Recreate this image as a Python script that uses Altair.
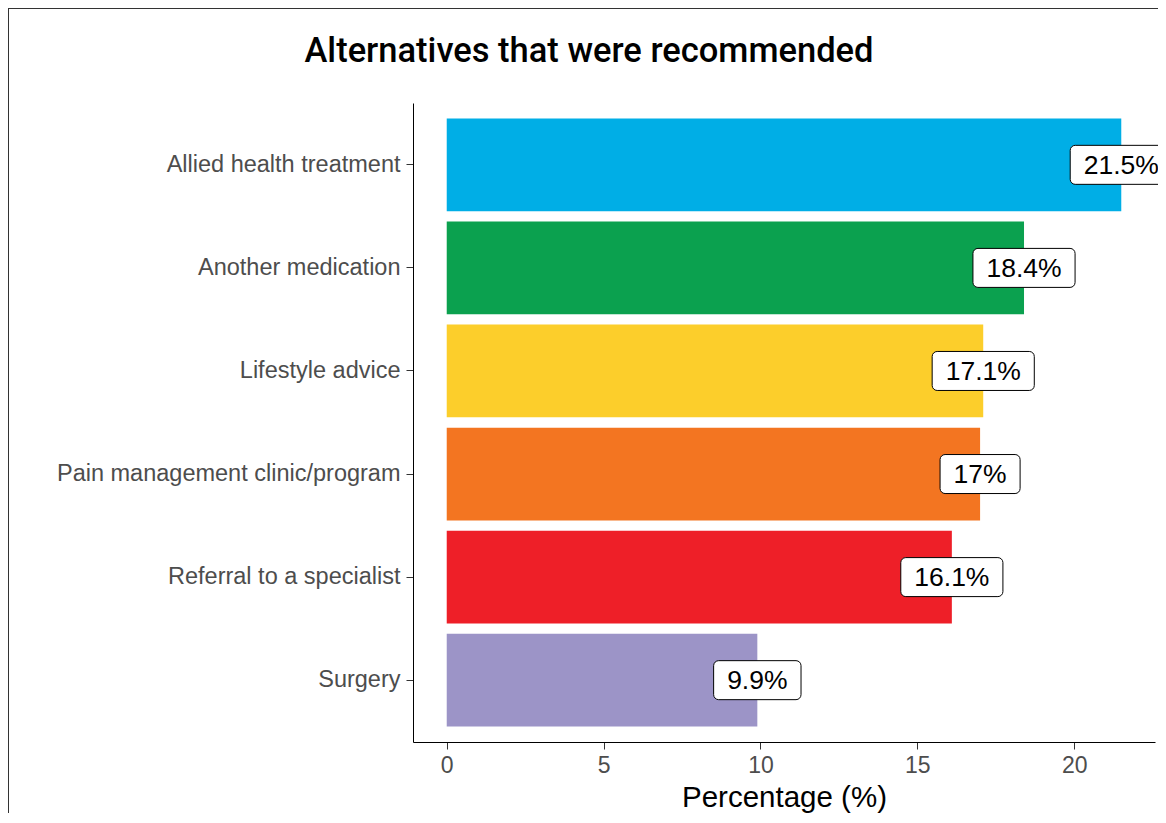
import altair as alt
import pandas as pd

categories = [
    "Allied health treatment",
    "Another medication",
    "Lifestyle advice",
    "Pain management clinic/program",
    "Referral to a specialist",
    "Surgery",
]
percentages = [21.5, 18.4, 17.1, 17.0, 16.1, 9.9]
bar_colors = ["#00AEE6", "#0BA14F", "#FCCE2B", "#F37521", "#EE1F28", "#9C94C7"]
x_ticks = [0, 5, 10, 15, 20]
title_text = "Alternatives that were recommended"

df = pd.DataFrame({"cat": categories, "pct": percentages})

x_scale = alt.Scale(domain=[-1.075, 22.575], nice=False, zero=False, padding=0)
y_scale = alt.Scale(paddingInner=0.1, paddingOuter=0.15)

base = alt.Chart(df)

bars = base.mark_bar().encode(
    x=alt.X("pct:Q", scale=x_scale,
            axis=alt.Axis(values=x_ticks, title="Percentage (%)", labelFontSize=23)),
    y=alt.Y("cat:N", sort=categories, scale=y_scale,
            axis=alt.Axis(title=None, labelLimit=0, labelFontSize=23.5)),
    color=alt.Color("cat:N", scale=alt.Scale(domain=categories, range=bar_colors), legend=None),
)

LABEL_FS = 26.5
with_labels = base.transform_calculate(
    label="datum.pct + '%'"
).transform_calculate(
    hasdot="indexof(datum.label, '.') >= 0 ? 1 : 0"
).transform_calculate(
    boxw=f"({LABEL_FS}) * (0.556 * (length(datum.label) - 1 - datum.hasdot) + 0.278 * datum.hasdot + 0.889) + 27"
)

boxes = with_labels.mark_bar(
    orient="vertical", height=39, cornerRadius=5, fill="white", stroke="black", strokeWidth=1
).encode(
    x=alt.X("pct:Q", stack=None, scale=x_scale),
    y=alt.Y("cat:N", sort=categories, scale=y_scale),
    size=alt.Size("boxw:Q", scale=None, legend=None),
)

texts = with_labels.mark_text(
    font="Liberation Sans", fontSize=LABEL_FS, color="black", baseline="middle", align="center", dy=1
).encode(
    x=alt.X("pct:Q", scale=x_scale),
    y=alt.Y("cat:N", sort=categories, scale=y_scale),
    text="label:N",
)

one = pd.DataFrame({"t": [title_text]})
title_mark = alt.Chart(one).mark_text(
    font="Roboto", fontSize=34.5, fontWeight=500, color="black",
    align="center", baseline="alphabetic"
).encode(x=alt.value(176), y=alt.value(-41), text="t:N")

frame_left = alt.Chart(one).mark_rule(color="#333333", strokeWidth=1).encode(
    x=alt.value(-404.5), y=alt.value(-96), y2=alt.value(800)
)
frame_top = alt.Chart(one).mark_rule(color="#333333", strokeWidth=1).encode(
    x=alt.value(-406), x2=alt.value(800), y=alt.value(-94.5)
)

chart = alt.layer(bars, boxes, texts, title_mark, frame_left, frame_top).properties(
    width=742,
    height=639,
    autosize=alt.AutoSizeParams(type="none"),
    padding={"left": 405, "top": 95, "right": 3, "bottom": 71},
).configure_view(stroke=None).configure_axis(
    grid=False,
    domainColor="black",
    domainWidth=1,
    tickColor="#333333",
    tickSize=7,
    labelFont="Liberation Sans",
    labelColor="#4D4D4D",
    labelPadding=6,
    titleFont="Liberation Sans",
    titleFontSize=29.5,
    titleFontWeight="normal",
    titleColor="black",
).configure_axisX(titlePadding=6, labelPadding=5)

chart.save("out.html", embed_options={"renderer": "svg", "actions": False})
